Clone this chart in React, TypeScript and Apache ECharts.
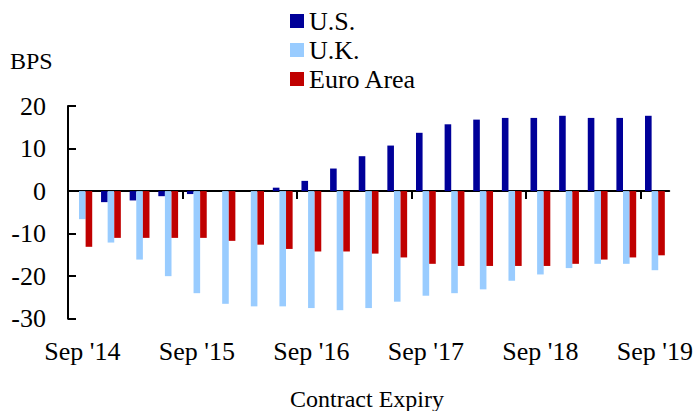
import React, { useEffect, useRef } from "react";
import * as echarts from "echarts";

const categories = [
  "Sep '14", "Dec '14", "Mar '15", "Jun '15",
  "Sep '15", "Dec '15", "Mar '16", "Jun '16",
  "Sep '16", "Dec '16", "Mar '17", "Jun '17",
  "Sep '17", "Dec '17", "Mar '18", "Jun '18",
  "Sep '18", "Dec '18", "Mar '19", "Jun '19",
  "Sep '19",
];

const usValues = [0, -2.6, -2.2, -1.2, -0.7, 0, 0, 0.8, 2.4, 5.3, 8.2, 10.7, 13.7, 15.7, 16.8, 17.2, 17.2, 17.7, 17.2, 17.2, 17.7];
const ukValues = [-6.6, -12.1, -16.1, -20.0, -24.0, -26.5, -27.1, -27.1, -27.5, -28.0, -27.5, -26.0, -24.6, -24.0, -23.1, -21.1, -19.6, -18.1, -17.1, -17.1, -18.6];
const euroValues = [-13.1, -11.0, -11.0, -11.0, -11.0, -11.7, -12.6, -13.6, -14.2, -14.2, -14.7, -15.6, -17.1, -17.6, -17.6, -17.6, -17.6, -17.1, -16.1, -15.6, -15.1];

const seriesNames = ["U.S.", "U.K.", "Euro Area"];
const yTicks = { min: -30, max: 20, interval: 10 };

const FONT = "Liberation Serif";

export default function App() {
  const ref = useRef<HTMLDivElement>(null);

  useEffect(() => {
    if (!ref.current) return;
    const chart = echarts.init(ref.current, undefined, { renderer: "svg" });
    const yearStarts = categories.map((_, i) => i).filter((i) => i % 4 === 0);
    const barBase = { type: "bar" as const, barWidth: 6.6, barGap: "0%", xAxisIndex: 0 };
    chart.setOption({
      animation: false,
      textStyle: { fontFamily: FONT, color: "#000" },
      grid: { left: 68, right: 26, top: 106, bottom: 92.3, containLabel: false },
      legend: {
        data: seriesNames,
        orient: "vertical",
        left: 290,
        top: 8,
        padding: 0,
        itemWidth: 14,
        itemHeight: 14,
        itemGap: 3,
        icon: "rect",
        textStyle: { fontFamily: FONT, fontSize: 26, lineHeight: 26, color: "#000" },
      },
      xAxis: [
        {
          type: "category",
          data: categories,
          position: "bottom",
          axisLine: { show: false, onZero: false },
          axisTick: { show: false },
          axisLabel: {
            interval: 3,
            margin: 20,
            fontSize: 26,
            fontFamily: FONT,
            color: "#000",
          },
          splitLine: { show: false },
        },
        {
          type: "value",
          min: 0,
          max: categories.length,
          position: "bottom",
          axisLine: { show: true, onZero: true, lineStyle: { color: "#000", width: 2 } },
          axisTick: {
            show: true,
            customValues: yearStarts,
            length: 8,
            lineStyle: { color: "#000", width: 2 },
          },
          axisLabel: { show: false },
          splitLine: { show: false },
        },
      ],
      yAxis: {
        type: "value",
        min: yTicks.min,
        max: yTicks.max,
        interval: yTicks.interval,
        axisLine: { show: true, onZero: false, lineStyle: { color: "#000", width: 2 } },
        axisTick: { show: true, inside: true, length: 8, lineStyle: { color: "#000", width: 2 } },
        axisLabel: { margin: 22, fontSize: 26, fontFamily: FONT, color: "#000" },
        splitLine: { show: false },
      },
      graphic: [
        {
          type: "text",
          x: 10,
          y: 60.5,
          style: {
            text: "BPS",
            fontSize: 24,
            fontFamily: FONT,
            fill: "#000",
            align: "left",
            verticalAlign: "middle",
          },
        },
        {
          type: "text",
          x: 367,
          y: 398.5,
          style: {
            text: "Contract Expiry",
            fontSize: 24,
            fontFamily: FONT,
            fill: "#000",
            align: "center",
            verticalAlign: "middle",
          },
        },
      ],
      series: [
        { ...barBase, name: seriesNames[0], data: usValues, itemStyle: { color: "#000099" } },
        { ...barBase, name: seriesNames[1], data: ukValues, itemStyle: { color: "#99CCFF" } },
        { ...barBase, name: seriesNames[2], data: euroValues, itemStyle: { color: "#C00000" } },
      ],
    });
    return () => chart.dispose();
  }, []);

  return (
    <div
      ref={ref}
      style={{ position: "absolute", left: 0, top: 0, width: 696, height: 411, background: "#fff" }}
    />
  );
}
